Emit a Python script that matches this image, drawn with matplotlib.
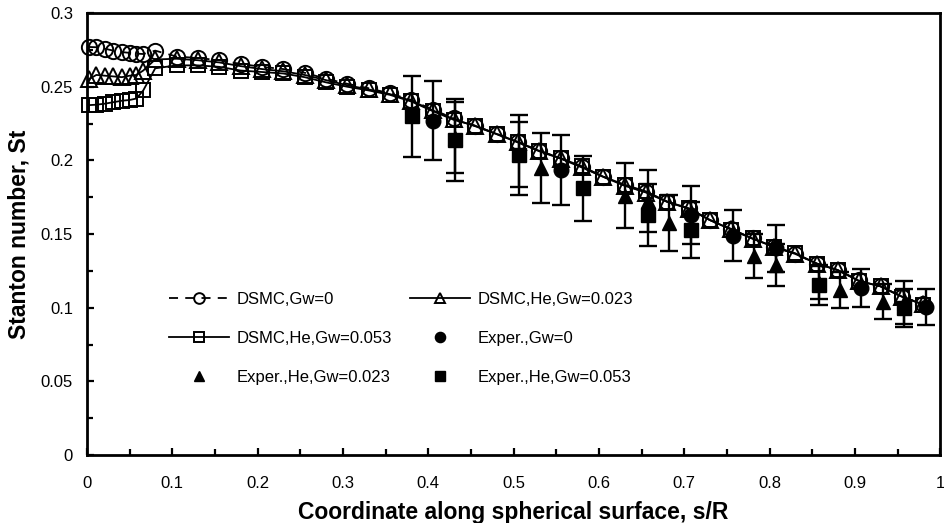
import matplotlib
matplotlib.use("Agg")
import matplotlib.pyplot as plt
from matplotlib.ticker import MultipleLocator, FormatStrFormatter

plt.rcParams['font.family'] = ['Liberation Sans', 'DejaVu Sans']

# ---- DSMC data ----
x_dsmc = [0.002, 0.011, 0.021, 0.031, 0.041, 0.050, 0.058, 0.066,
          0.080, 0.105, 0.130, 0.155, 0.180, 0.205, 0.230, 0.255, 0.280, 0.305,
          0.330, 0.355, 0.380, 0.405, 0.430, 0.455, 0.480, 0.505, 0.530, 0.555,
          0.580, 0.605, 0.630, 0.655, 0.680, 0.705, 0.730, 0.755, 0.780, 0.805,
          0.830, 0.855, 0.880, 0.905, 0.930, 0.955, 0.980]

st_dsmc_gw0 = [0.2770, 0.2768, 0.2758, 0.2745, 0.2735, 0.2730, 0.2725, 0.2722,
               0.2745, 0.2705, 0.2695, 0.2680, 0.2655, 0.2635, 0.2620, 0.2595, 0.2555, 0.2520,
               0.2490, 0.2455, 0.2410, 0.2345, 0.2285, 0.2235, 0.2180, 0.2125, 0.2065, 0.2015,
               0.1955, 0.1890, 0.1830, 0.1785, 0.1720, 0.1675, 0.1595, 0.1535, 0.1470, 0.1415,
               0.1365, 0.1300, 0.1255, 0.1185, 0.1145, 0.1075, 0.1025]

st_dsmc_he023 = [0.2550, 0.2580, 0.2575, 0.2570, 0.2565, 0.2575, 0.2580, 0.2610,
                 0.2685, 0.2690, 0.2680, 0.2665, 0.2640, 0.2620, 0.2605, 0.2580, 0.2545, 0.2510,
                 0.2482, 0.2450, 0.2405, 0.2340, 0.2280, 0.2232, 0.2178, 0.2122, 0.2062, 0.2012,
                 0.1952, 0.1888, 0.1828, 0.1782, 0.1718, 0.1672, 0.1595, 0.1532, 0.1468, 0.1413,
                 0.1365, 0.1300, 0.1255, 0.1182, 0.1145, 0.1075, 0.1022]

st_dsmc_he053 = [0.2375, 0.2378, 0.2385, 0.2395, 0.2405, 0.2410, 0.2420, 0.2475,
                 0.2625, 0.2645, 0.2645, 0.2635, 0.2610, 0.2600, 0.2590, 0.2565, 0.2530, 0.2500,
                 0.2475, 0.2445, 0.2400, 0.2335, 0.2275, 0.2235, 0.2180, 0.2125, 0.2065, 0.2015,
                 0.1960, 0.1890, 0.1835, 0.1790, 0.1720, 0.1675, 0.1595, 0.1530, 0.1470, 0.1415,
                 0.1370, 0.1300, 0.1255, 0.1180, 0.1145, 0.1075, 0.1020]

# ---- Experimental data ----
x_exp_gw0 = [0.406, 0.556, 0.708, 0.757, 0.807, 0.907, 0.983]
st_exp_gw0 = [0.2270, 0.1935, 0.1630, 0.1490, 0.1403, 0.1132, 0.1005]
err_exp_gw0 = [0.0270, 0.0235, 0.0195, 0.0175, 0.0160, 0.0130, 0.0120]

x_exp_he023 = [0.431, 0.506, 0.532, 0.631, 0.657, 0.682, 0.782, 0.807, 0.858, 0.883, 0.933, 0.958]
st_exp_he023 = [0.2155, 0.2040, 0.1950, 0.1760, 0.1725, 0.1575, 0.1350, 0.1290, 0.1170, 0.1120, 0.1040, 0.1035]
err_exp_he023 = [0.0240, 0.0220, 0.0238, 0.0220, 0.0210, 0.0190, 0.0150, 0.0145, 0.0113, 0.0125, 0.0120, 0.0145]

x_exp_he053 = [0.381, 0.431, 0.506, 0.581, 0.657, 0.708, 0.858, 0.958]
st_exp_he053 = [0.2300, 0.2140, 0.2037, 0.1810, 0.1630, 0.1527, 0.1154, 0.0996]
err_exp_he053 = [0.0275, 0.0280, 0.0270, 0.0220, 0.0210, 0.0190, 0.0136, 0.0130]

fig = plt.figure(figsize=(9.45, 5.23), dpi=100)
ax = fig.add_axes([0.092, 0.130, 0.903, 0.845])

ms_dsmc = 11
mew = 1.4
h1, = ax.plot(x_dsmc, st_dsmc_gw0, linestyle=(0, (5, 4)), color='black', lw=1.3,
              marker='o', ms=ms_dsmc, mfc='none', mec='black', mew=mew,
              label='DSMC,Gw=0', clip_on=False)
h2, = ax.plot(x_dsmc, st_dsmc_he023, linestyle='-', color='black', lw=1.3,
              marker='^', ms=ms_dsmc, mfc='none', mec='black', mew=mew,
              label='DSMC,He,Gw=0.023', clip_on=False)
h3, = ax.plot(x_dsmc, st_dsmc_he053, linestyle='-', color='black', lw=1.3,
              marker='s', ms=ms_dsmc - 0.5, mfc='none', mec='black', mew=mew,
              label='DSMC,He,Gw=0.053', clip_on=False)

ekw = dict(fmt='none', ecolor='black', elinewidth=1.7, capsize=6.5, capthick=1.7, zorder=4)
ax.errorbar(x_exp_gw0, st_exp_gw0, yerr=err_exp_gw0, **ekw)
ax.errorbar(x_exp_he023, st_exp_he023, yerr=err_exp_he023, **ekw)
ax.errorbar(x_exp_he053, st_exp_he053, yerr=err_exp_he053, **ekw)

ms_exp = 10.5
h4, = ax.plot(x_exp_gw0, st_exp_gw0, linestyle='none', marker='o', ms=ms_exp,
              color='black', zorder=5, label='Exper.,Gw=0')
h5, = ax.plot(x_exp_he023, st_exp_he023, linestyle='none', marker='^', ms=ms_exp,
              color='black', zorder=5, label='Exper.,He,Gw=0.023')
h6, = ax.plot(x_exp_he053, st_exp_he053, linestyle='none', marker='s', ms=ms_exp - 0.5,
              color='black', zorder=5, label='Exper.,He,Gw=0.053')

ax.set_xlim(0, 1)
ax.set_ylim(0, 0.3)
ax.xaxis.set_major_locator(MultipleLocator(0.1))
ax.xaxis.set_minor_locator(MultipleLocator(0.05))
ax.yaxis.set_major_locator(MultipleLocator(0.05))
ax.yaxis.set_minor_locator(MultipleLocator(0.025))
ax.xaxis.set_major_formatter(FormatStrFormatter('%g'))
ax.yaxis.set_major_formatter(FormatStrFormatter('%g'))
ax.tick_params(which='both', direction='in', width=1.6, labelsize=12)
ax.tick_params(which='major', length=5)
ax.tick_params(which='minor', length=4)
ax.tick_params(axis='x', which='major', pad=15)
ax.tick_params(axis='y', which='major', pad=10)
for sp in ax.spines.values():
    sp.set_linewidth(2.0)

ax.set_xlabel('Coordinate along spherical surface, s/R', fontsize=16.5, fontweight='bold', labelpad=7)
ax.set_ylabel('Stanton number, St', fontsize=16.5, fontweight='bold', labelpad=7)

leg = ax.legend([h1, h3, h5, h2, h4, h6],
                [h1.get_label(), h3.get_label(), h5.get_label(),
                 h2.get_label(), h4.get_label(), h6.get_label()],
                ncol=2, frameon=False, loc='upper left',
                bbox_to_anchor=(0.088, 0.385), fontsize=12,
                handlelength=3.6, handletextpad=0.45, labelspacing=1.45,
                columnspacing=1.1, markerscale=0.7, borderaxespad=0)

fig.savefig('out.png', dpi=100)
